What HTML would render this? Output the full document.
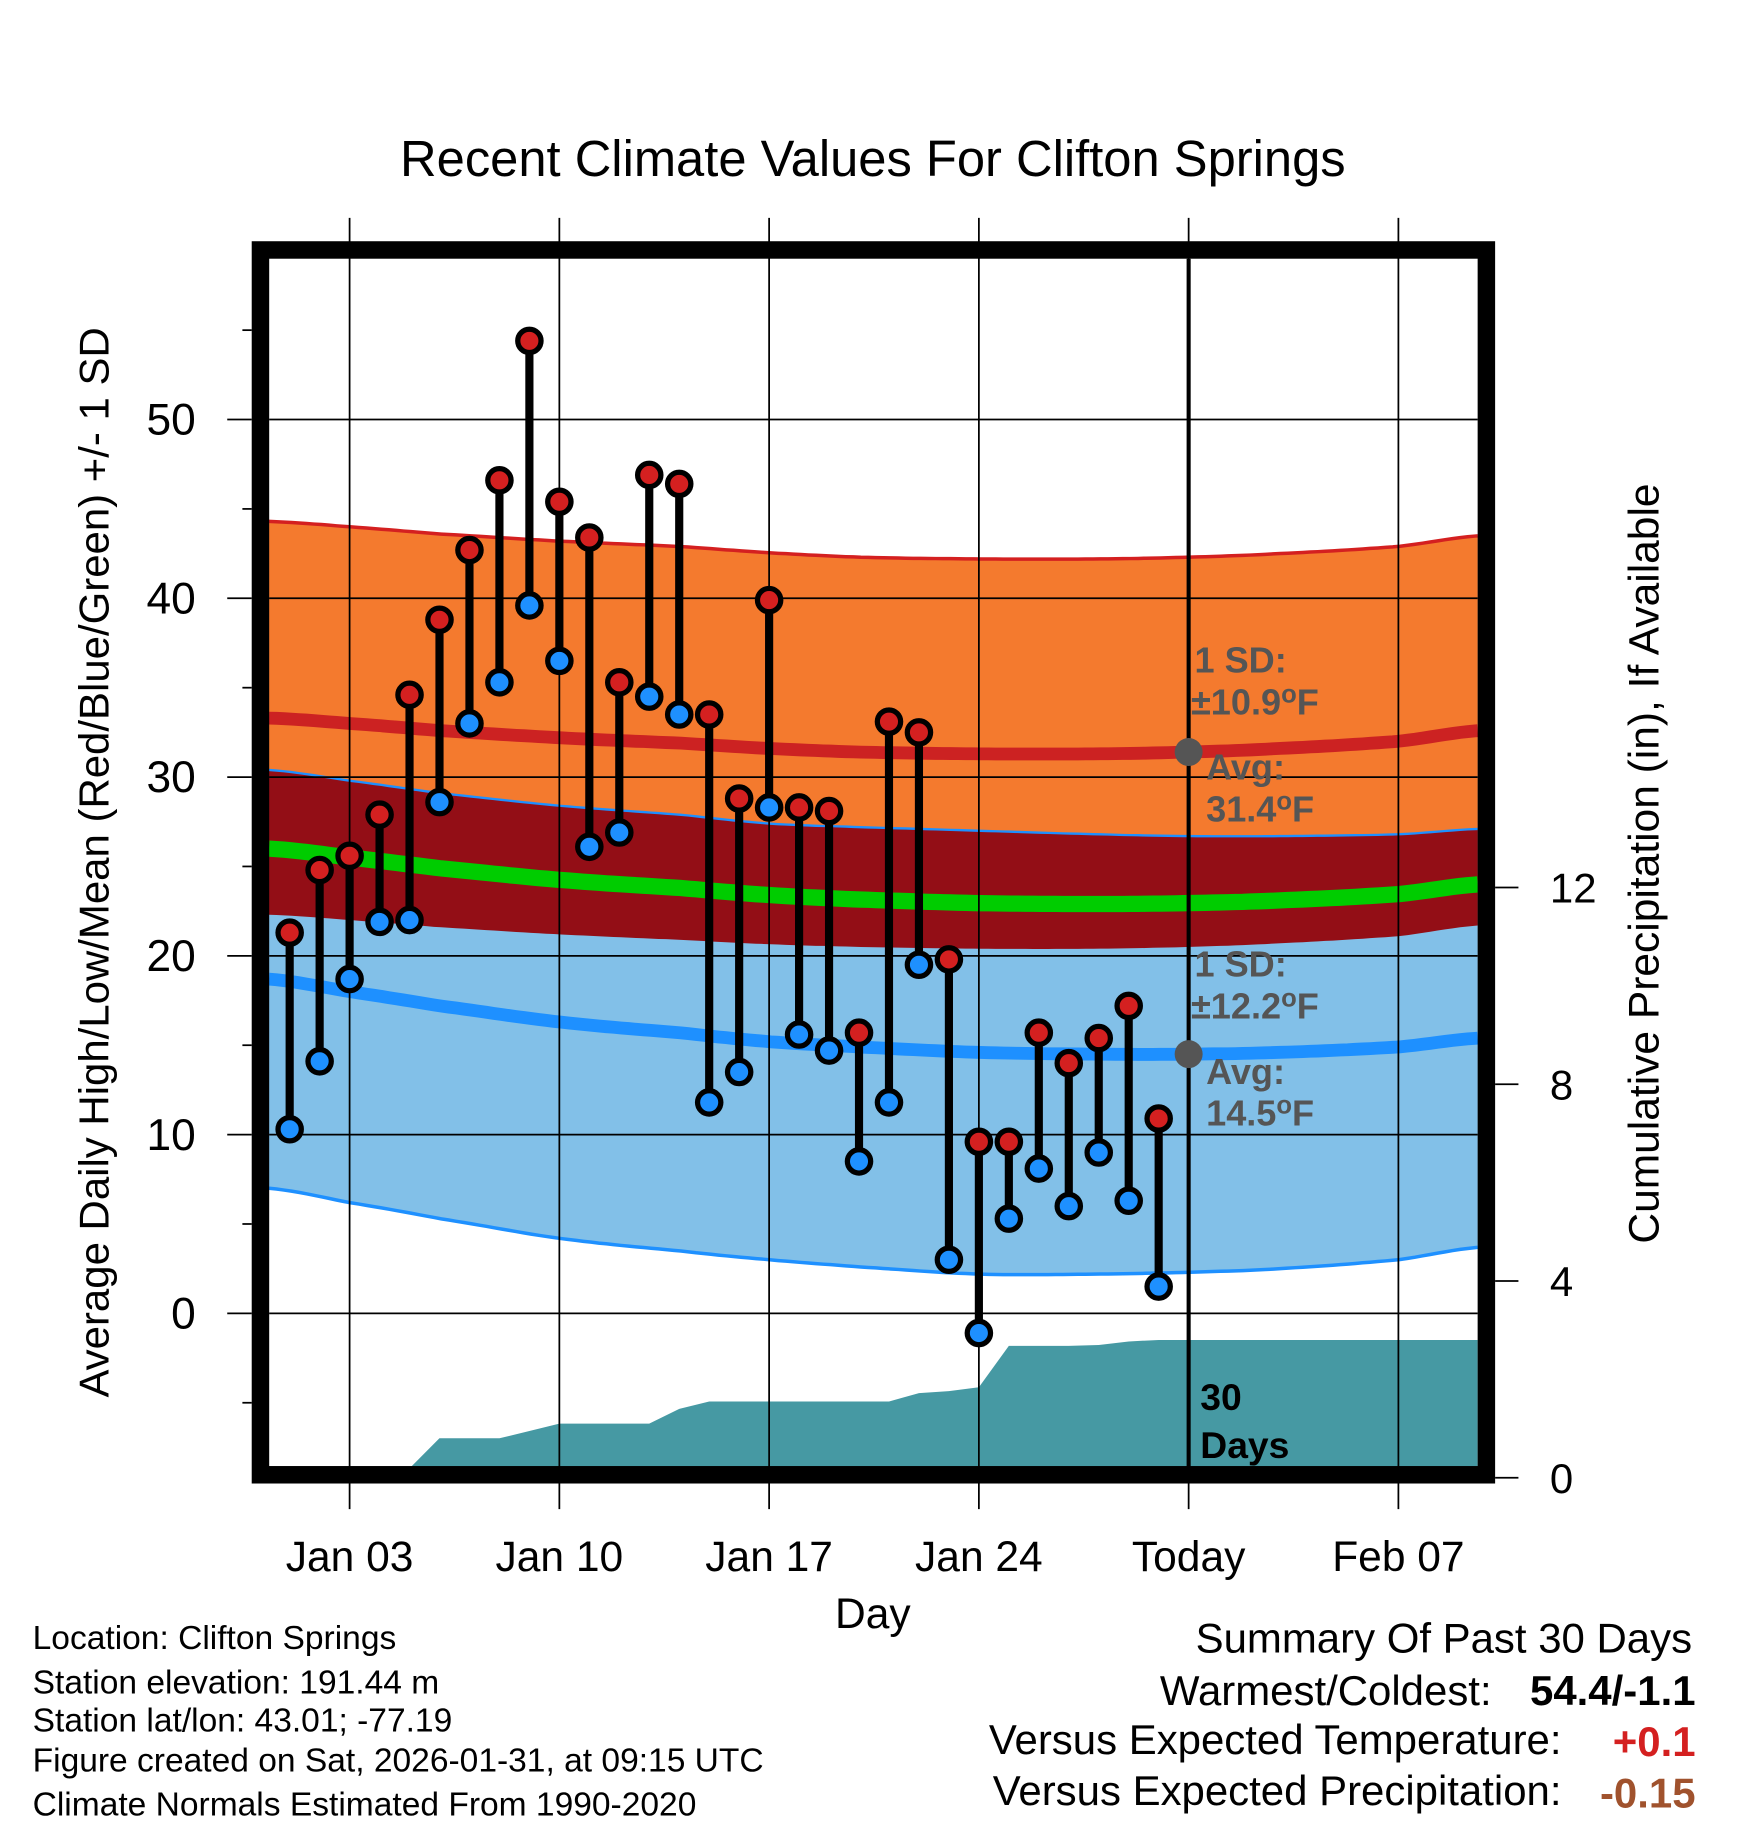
<!DOCTYPE html>
<html><head><meta charset="utf-8"><style>
html,body{margin:0;padding:0;background:#fff;}
svg{display:block;font-family:"Liberation Sans",sans-serif;}
</style></head><body>
<svg id="chart" width="1748" height="1828" viewBox="0 0 1500 1568.6" preserveAspectRatio="none" xmlns="http://www.w3.org/2000/svg">
<g id="layer"></g>
</svg>
<script>
// ---- data ----
const days = [1,2,3,4,5,6,7,8,9,10,11,12,13,14,15,16,17,18,19,20,21,22,23,24,25,26,27,28,29,30];
const highs = [21.3,24.8,25.6,27.9,34.6,38.8,42.7,46.6,54.4,45.4,43.4,35.3,46.9,46.4,33.5,28.8,39.9,28.3,28.1,15.7,33.1,32.5,19.8,9.6,9.6,15.7,14.0,15.4,17.2,10.9];
const lows = [10.3,14.1,18.7,21.9,22.0,28.6,33.0,35.3,39.6,36.5,26.1,26.9,34.5,33.5,11.8,13.5,28.3,15.6,14.7,8.5,11.8,19.5,3.0,-1.1,5.3,8.1,6.0,9.0,6.3,1.5];
const precipCum = [0,0,0,0,0,0.8,0.8,0.8,0.95,1.1,1.1,1.1,1.1,1.4,1.55,1.55,1.55,1.55,1.55,1.55,1.55,1.72,1.76,1.84,2.68,2.68,2.68,2.7,2.77,2.8];
const normDays = [0.3,3,6,10,14,17,20,24,28,31,34,38,40.7];
const normHigh = [33.3,33.0,32.6,32.2,31.9,31.6,31.4,31.3,31.3,31.4,31.6,32.0,32.6];
const normHighSD = [11.0,11.0,11.0,11.0,11.0,10.95,10.9,10.9,10.9,10.9,10.9,10.9,10.9];
const normLow = [18.7,18.0,17.2,16.3,15.7,15.2,14.9,14.6,14.5,14.5,14.6,14.9,15.4];
const normLowSD = [11.7,11.8,11.9,12.1,12.2,12.2,12.3,12.4,12.3,12.2,12.1,11.9,11.7];
const tempTicks = [0,10,20,30,40,50];
const precipTicks = [0,4,8,12];
const dateTickDays = [3,10,17,24,31,38];
const dateTickLabels = ["Jan 03","Jan 10","Jan 17","Jan 24","Today","Feb 07"];

// ---- axes ----
const PL=231,PR=1268,PT=222,PB=1260;
const xD = d => 300 + (d-3)*180/7;
const yT = t => 1127 - t*15.34;
const yP = p => 1268 - p*42.2;
const dMin=0.31, dMax=40.65;

const NS="http://www.w3.org/2000/svg";
const L=document.getElementById('layer');
function mk(tag,attrs,parent){const e=document.createElementNS(NS,tag);for(const k in attrs)e.setAttribute(k,attrs[k]);(parent||L).appendChild(e);return e;}
function txt(s,attrs,parent){const e=mk('text',attrs,parent);e.textContent=s;return e;}
// monotone-ish smooth interpolation (Catmull-Rom)
function interp(xs,ys,x){
 let i=0;while(i<xs.length-2&&x>xs[i+1])i++;
 const x0=xs[i],x1=xs[i+1],f=(x-x0)/(x1-x0);
 const p0=ys[Math.max(0,i-1)],p1=ys[i],p2=ys[i+1],p3=ys[Math.min(ys.length-1,i+2)];
 const f2=f*f,f3=f2*f;
 return 0.5*((2*p1)+(-p0+p2)*f+(2*p0-5*p1+4*p2-p3)*f2+(-p0+3*p1-3*p2+p3)*f3);
}
const samp=[];for(let d=dMin;d<dMax;d+=0.25)samp.push(d);samp.push(dMax);
function line(fn){return samp.map((d,i)=>(i?'L':'M')+xD(d).toFixed(1)+','+yT(fn(d)).toFixed(1)).join(' ');}
function band(fu,fl){let s=line(fu);for(let i=samp.length-1;i>=0;i--){s+='L'+xD(samp[i]).toFixed(1)+','+yT(fl(samp[i])).toFixed(1);}return s+'Z';}
const hm=d=>interp(normDays,normHigh,d), hs=d=>interp(normDays,normHighSD,d);
const lm=d=>interp(normDays,normLow,d), ls=d=>interp(normDays,normLowSD,d);

// title
let t=txt('Recent Climate Values For Clifton Springs',{x:749,y:151,'font-size':43.5,'text-anchor':'middle'});



// bands
let e;
e=mk('path',{d:band(d=>hm(d)+hs(d),d=>hm(d)-hs(d)),fill:'#f47a2e'});

e=mk('path',{d:band(d=>lm(d)+ls(d),d=>lm(d)-ls(d)),fill:'#82c0e8'});

e=mk('path',{d:band(d=>lm(d)+ls(d),d=>hm(d)-hs(d)),fill:'#930e16'});

mk('path',{d:line(d=>hm(d)+hs(d)),stroke:'#d42020',fill:'none','stroke-width':3});
mk('path',{d:line(d=>lm(d)+ls(d)),stroke:'#1e90ff',fill:'none','stroke-width':2});
mk('path',{d:line(d=>lm(d)-ls(d)),stroke:'#1e90ff',fill:'none','stroke-width':3});
e=mk('path',{d:line(d=>(hm(d)+lm(d))/2),stroke:'#00cc00',fill:'none','stroke-width':14});

e=mk('path',{d:line(hm),stroke:'#cc2222',fill:'none','stroke-width':11});

e=mk('path',{d:line(lm),stroke:'#1e90ff',fill:'none','stroke-width':11});


// precip area
let pd='M'+PL+','+PB;
days.forEach((d,i)=>{pd+='L'+xD(d).toFixed(1)+','+Math.min(PB,yP(precipCum[i])).toFixed(1);});
pd+='L'+PR+','+yP(precipCum[precipCum.length-1]).toFixed(1)+'L'+PR+','+PB+'Z';
e=mk('path',{d:pd,fill:'#4699a3'});


// grid
tempTicks.forEach(v=>{mk('line',{x1:PL,x2:PR,y1:yT(v),y2:yT(v),stroke:'#000','stroke-width':1.5});});
dateTickDays.forEach(d=>{mk('line',{x1:xD(d),x2:xD(d),y1:187,y2:1295,stroke:'#000','stroke-width':1.5});});
// today line
e=mk('line',{x1:xD(31),x2:xD(31),y1:PT,y2:PB,stroke:'#000','stroke-width':3.5});


// left ticks
for(let v=-5;v<=55;v+=5){const maj=v%10===0;mk('line',{x1:maj?195:208,x2:216,y1:yT(v),y2:yT(v),stroke:'#000','stroke-width':1.5});}
tempTicks.forEach(v=>{e=txt(String(v),{x:168,y:yT(v)+13,'font-size':38,'text-anchor':'end'});
});
precipTicks.forEach(v=>{mk('line',{x1:1283,x2:1303,y1:yP(v),y2:yP(v),stroke:'#000','stroke-width':1.5});
e=txt(String(v),{x:1330,y:yP(v)+13,'font-size':36});
});
dateTickDays.forEach((d,i)=>{e=txt(dateTickLabels[i],{x:xD(d),y:1348,'font-size':36.5,'text-anchor':'middle'});
});

// annotations
const g='#555';
e=mk('circle',{cx:xD(31),cy:yT(31.4),r:12,fill:g});
e=mk('circle',{cx:xD(31),cy:yT(14.5),r:12,fill:g});
function ann(parts,x,y){const te=mk('text',{x:x,y:y,'font-size':31,'font-weight':'bold',fill:g});
 parts.forEach(p=>{const s=mk('tspan',p[1]?{'baseline-shift':'45%','font-size':22}:{},te);s.textContent=p[0];});
 }
ann([['1 SD:']],1025,577);
ann([['±10.9'],['o',1],['F']],1022,613);
ann([['Avg:']],1035,669);
ann([['31.4'],['o',1],['F']],1035,705);
ann([['1 SD:']],1025,838);
ann([['±12.2'],['o',1],['F']],1022,874);
ann([['Avg:']],1035,930);
ann([['14.5'],['o',1],['F']],1035,966);
e=txt('30',{x:1030,y:1210,'font-size':32,'font-weight':'bold'});
e=txt('Days',{x:1030,y:1251,'font-size':32,'font-weight':'bold'});

// daily bars
days.forEach((d,i)=>{
 const x=xD(d);
 e=mk('line',{x1:x,x2:x,y1:yT(highs[i]),y2:yT(lows[i]),stroke:'#000','stroke-width':7});
 
 e=mk('circle',{cx:x,cy:yT(highs[i]),r:10,fill:'#d42020',stroke:'#000','stroke-width':4.5});
 
 e=mk('circle',{cx:x,cy:yT(lows[i]),r:10,fill:'#1e90ff',stroke:'#000','stroke-width':4.5});
 
});

// frame
e=mk('rect',{x:223.5,y:214.5,width:1052,height:1051,fill:'none',stroke:'#000','stroke-width':15});


// axis titles
e=txt('Average Daily High/Low/Mean (Red/Blue/Green) +/- 1 SD',{x:0,y:0,'font-size':36,'text-anchor':'middle',transform:'translate(93,740) rotate(-90)'});

e=txt('Cumulative Precipitation (in), If Available',{x:0,y:0,'font-size':36.5,'text-anchor':'middle',transform:'translate(1423,741) rotate(-90)'});

e=txt('Day',{x:749,y:1397,'font-size':36.5,'text-anchor':'middle'});


// footer info
[['Location: Clifton Springs',1415],['Station elevation: 191.44 m',1453],['Station lat/lon: 43.01; -77.19',1486],['Figure created on Sat, 2026-01-31, at 09:15 UTC',1520],['Climate Normals Estimated From 1990-2020',1558]].forEach(a=>{
e=txt(a[0],{x:28,y:a[1],'font-size':28.8});});
e=txt('Summary Of Past 30 Days',{x:1452,y:1418,'font-size':36,'text-anchor':'end'});
e=txt('Warmest/Coldest:',{x:1280,y:1463,'font-size':36,'text-anchor':'end'});
e=txt('54.4/-1.1',{x:1455,y:1463,'font-size':36,'font-weight':'bold','text-anchor':'end'});
e=txt('Versus Expected Temperature:',{x:1340,y:1505,'font-size':36,'text-anchor':'end'});
e=txt('+0.1',{x:1455,y:1507,'font-size':36,'font-weight':'bold','text-anchor':'end',fill:'#d42020'});
e=txt('Versus Expected Precipitation:',{x:1340,y:1549,'font-size':36,'text-anchor':'end'});
e=txt('-0.15',{x:1455,y:1551,'font-size':36,'font-weight':'bold','text-anchor':'end',fill:'#a0522d'});
</script>
</body></html>
